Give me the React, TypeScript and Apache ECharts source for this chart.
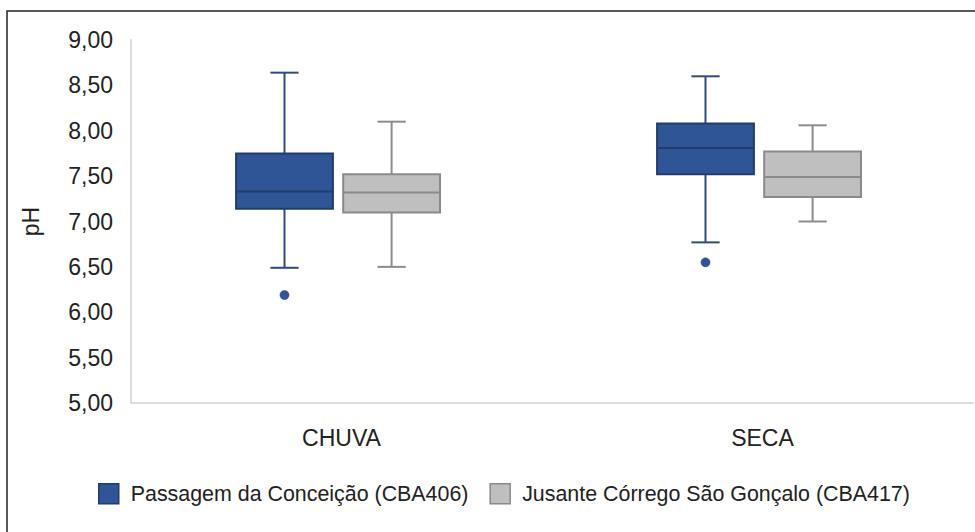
import React, { useEffect, useRef } from "react";
import * as echarts from "echarts";

const categories = ["CHUVA", "SECA"];
const seriesNames = ["Passagem da Conceição (CBA406)", "Jusante Córrego São Gonçalo (CBA417)"];
// [min, q1, median, q3, max] per category
const passagemBox = [
  [6.49, 7.14, 7.33, 7.75, 8.64],
  [6.77, 7.52, 7.81, 8.08, 8.6],
];
const jusanteBox = [
  [6.5, 7.1, 7.32, 7.52, 8.1],
  [7.0, 7.27, 7.49, 7.77, 8.06],
];
const passagemOutliers = [
  [0, 6.19],
  [1, 6.55],
];
const yMin = 5;
const yMax = 9;
const yInterval = 0.5;

const FONT = "'Liberation Sans', Arial, sans-serif";
const TEXT = "#222222";

const styles = [
  { fill: "#2F5597", border: "#213D6E", whisker: "#2F4B80", offset: -0.1354 },
  { fill: "#BFBFBF", border: "#8A8A8A", whisker: "#8C8C8C", offset: 0.119 },
];
const BOX_W = 0.23;
const CAP_W = 0.067;

function makeRender(st: any) {
  return function (params: any, api: any) {
    const idx = api.value(0);
    const bw = api.size([1, 0])[0];
    const cx = api.coord([idx, api.value(1)])[0] + st.offset * bw;
    const yMinP = api.coord([idx, api.value(1)])[1];
    const yQ1 = api.coord([idx, api.value(2)])[1];
    const yMed = api.coord([idx, api.value(3)])[1];
    const yQ3 = api.coord([idx, api.value(4)])[1];
    const yMaxP = api.coord([idx, api.value(5)])[1];
    const half = (BOX_W * bw) / 2;
    const cap = (CAP_W * bw) / 2;
    const lineStyle = { stroke: st.whisker, lineWidth: 2 };
    return {
      type: "group",
      children: [
        { type: "line", shape: { x1: cx, y1: yMaxP, x2: cx, y2: yQ3 }, style: lineStyle },
        { type: "line", shape: { x1: cx, y1: yQ1, x2: cx, y2: yMinP }, style: lineStyle },
        { type: "line", shape: { x1: cx - cap, y1: yMaxP, x2: cx + cap, y2: yMaxP }, style: lineStyle },
        { type: "line", shape: { x1: cx - cap, y1: yMinP, x2: cx + cap, y2: yMinP }, style: lineStyle },
        {
          type: "rect",
          shape: { x: cx - half, y: yQ3, width: half * 2, height: yQ1 - yQ3 },
          style: { fill: st.fill, stroke: st.border, lineWidth: 2 },
        },
        {
          type: "line",
          shape: { x1: cx - half, y1: yMed, x2: cx + half, y2: yMed },
          style: { stroke: st.border, lineWidth: 2 },
        },
      ],
    };
  };
}

function outlierRender(st: any) {
  return function (params: any, api: any) {
    const idx = api.value(0);
    const bw = api.size([1, 0])[0];
    const p = api.coord([idx, api.value(1)]);
    return {
      type: "circle",
      shape: { cx: p[0] + st.offset * bw, cy: p[1], r: 4.5 },
      style: { fill: st.fill, stroke: st.border, lineWidth: 0.5 },
    };
  };
}

export default function App() {
  const ref = useRef<HTMLDivElement>(null);
  useEffect(() => {
    if (!ref.current) return;
    const chart = echarts.init(ref.current, null, { renderer: "svg" });
    const boxes = [passagemBox, jusanteBox];
    chart.setOption({
      animation: false,
      backgroundColor: "#ffffff",
      textStyle: { fontFamily: FONT },
      grid: { left: 131, right: 2, top: 40, bottom: 129, containLabel: false },
      legend: {
        left: 93,
        top: 478,
        itemWidth: 20,
        itemHeight: 20,
        itemGap: 21,
        icon: "rect",
        selectedMode: false,
        textStyle: { fontSize: 21.4, color: TEXT, fontFamily: FONT, padding: [0, 0, 0, 7] },
        data: seriesNames.map((n, i) => ({
          name: n,
          itemStyle: { color: styles[i].fill, borderColor: styles[i].border, borderWidth: 1.5 },
        })),
      },
      xAxis: {
        type: "category",
        data: categories,
        axisLine: { show: true, lineStyle: { color: "#DDDDDD", width: 2 } },
        axisTick: { show: false },
        axisLabel: { fontSize: 23, color: TEXT, margin: 23, fontFamily: FONT },
        splitLine: { show: false },
      },
      yAxis: {
        type: "value",
        min: yMin,
        max: yMax,
        interval: yInterval,
        name: "pH",
        nameLocation: "middle",
        nameGap: 89,
        nameTextStyle: { fontSize: 23, color: TEXT, fontFamily: FONT },
        axisLine: { show: true, lineStyle: { color: "#DDDDDD", width: 2 } },
        axisTick: { show: false },
        splitLine: { show: false },
        axisLabel: {
          fontSize: 23,
          color: TEXT,
          margin: 18,
          fontFamily: FONT,
          formatter: (v: number) => v.toFixed(2).replace(".", ","),
        },
      },
      graphic: [
        {
          type: "rect",
          silent: true,
          shape: { x: 7, y: 11, width: 1000, height: 600 },
          style: { fill: "none", stroke: "#222222", lineWidth: 1.5 },
        },
      ],
      series: [
        ...seriesNames.map((name, i) => ({
          type: "custom",
          name,
          itemStyle: { color: styles[i].fill, borderColor: styles[i].border },
          renderItem: makeRender(styles[i]),
          encode: { x: 0, y: [1, 2, 3, 4, 5] },
          data: categories.map((c, ci) => [ci, ...boxes[i][ci]]),
          z: 2,
        })),
        {
          type: "custom",
          name: "outliers",
          renderItem: outlierRender(styles[0]),
          encode: { x: 0, y: 1 },
          data: passagemOutliers,
          z: 3,
        },
      ],
    });
    return () => chart.dispose();
  }, []);
  return (
    <div
      ref={ref}
      style={{ position: "absolute", left: 0, top: 0, width: 975, height: 532, background: "#fff" }}
    />
  );
}
